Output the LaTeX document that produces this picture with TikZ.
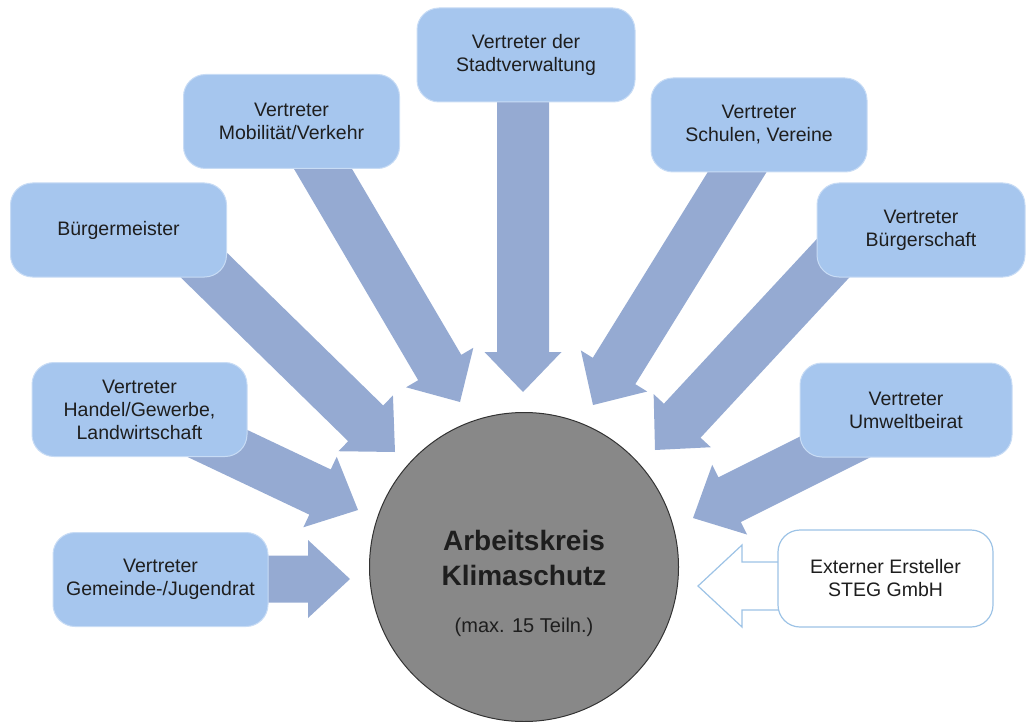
\documentclass[tikz,border=0pt]{standalone}
\usepackage{fontspec}
\setmainfont{Liberation Sans}
\usetikzlibrary{calc}
\definecolor{boxblue}{HTML}{A6C6EE}
\definecolor{boxrim}{HTML}{C8DCF5}
\definecolor{arrowblue}{HTML}{95AAD2}
\definecolor{circgray}{HTML}{888888}
\definecolor{txt}{HTML}{1E1E1E}
\definecolor{extline}{HTML}{9DC3E6}
% #1 style, #2 start, #3 tip, #4 half shaft, #5 half head, #6 head length
\newcommand{\blockarrow}[6][arrowbody]{%
  \coordinate (bahead) at ($(#3)!#6!(#2)$);
  \path[#1] ($(#2)!#4!90:(#3)$) -- ($(bahead)!#4!90:(#3)$) -- ($(bahead)!#5!90:(#3)$) -- (#3)
    -- ($(bahead)!#5!-90:(#3)$) -- ($(bahead)!#4!-90:(#3)$) -- ($(#2)!#4!-90:(#3)$) -- cycle;
}
\begin{document}
\begin{tikzpicture}[x=1pt,y=-1pt,
  arrowbody/.style={fill=arrowblue},
  hollowarrow/.style={fill=white,draw=extline,line width=1.2pt,line join=miter},
  member/.style={rectangle,rounded corners=22pt,fill=boxblue,draw=boxrim,line width=1pt,
    minimum width=216pt,minimum height=94pt,inner sep=0pt,align=center,text=txt,
    font=\fontsize{19.5}{23}\selectfont},
  extbox/.style={member,fill=white,draw=extline,line width=1.2pt},
  core/.style={circle,fill=circgray,draw=black!80,line width=1pt,minimum size=309pt,inner sep=0pt},
  coretitle/.style={anchor=base,text=txt,font=\fontsize{28}{34}\selectfont\bfseries,inner sep=0pt},
  corenote/.style={anchor=base,text=txt,font=\fontsize{20}{24}\selectfont,inner sep=0pt}]
\useasboundingbox (0,0) rectangle (1027,722);

% arrow end points
\coordinate (sBm) at (170,232);  \coordinate (tBm) at (395,452);
\coordinate (sMo) at (306,140);  \coordinate (tMo) at (460,402);
\coordinate (sSt) at (523,60);   \coordinate (tSt) at (523,392);
\coordinate (sSc) at (757,140);  \coordinate (tSc) at (593,405);
\coordinate (sBs) at (850,240);  \coordinate (tBs) at (655,450);
\coordinate (sUm) at (869,430);  \coordinate (tUm) at (693,518);
\coordinate (sHa) at (189,430);  \coordinate (tHa) at (358,510);
\coordinate (sGe) at (230,579);  \coordinate (tGe) at (350,579);
\coordinate (sEx) at (820,586);  \coordinate (tEx) at (698,586);

\blockarrow{sBm}{tBm}{25pt}{39pt}{41pt}
\blockarrow{sMo}{tMo}{25pt}{39pt}{40pt}
\blockarrow{sSt}{tSt}{26pt}{38.5pt}{40pt}
\blockarrow{sSc}{tSc}{25pt}{39pt}{40pt}
\blockarrow{sBs}{tBs}{25pt}{39pt}{40pt}
\blockarrow{sUm}{tUm}{25pt}{39pt}{41pt}
\blockarrow{sHa}{tHa}{25pt}{39pt}{42pt}
\blockarrow{sGe}{tGe}{23.5pt}{39pt}{42pt}
\blockarrow[hollowarrow]{sEx}{tEx}{24pt}{41pt}{44pt}

% boxes
\node[member] (bm) at (118.5,230) {Bürgermeister};
\node[member] (mo) at (291.5,121.5) {Vertreter\\Mobilität/Verkehr};
\node[member,minimum width=218pt] (st) at (526,55) {Vertreter der\\Stadtverwaltung};
\node[member] (sc) at (759,125) {Vertreter\\Schulen, Vereine};
\node[member,minimum width=208pt] (bs) at (921,230) {Vertreter\\Bürgerschaft};
\node[member,minimum width=212pt] (um) at (906,410) {Vertreter\\Umweltbeirat};
\node[member,minimum width=215pt] (ha) at (139.5,409.5) {Vertreter\\Handel/Gewerbe,\\Landwirtschaft};
\node[member,minimum width=215pt] (ge) at (160.5,579.5) {Vertreter\\Gemeinde-/Jugendrat};
\node[extbox,minimum width=215pt,minimum height=97pt] (ex) at (885.5,578.5) {Externer Ersteller\\STEG GmbH};

% central circle
\node[core] (ak) at (524,567) {};
\node[coretitle] (ak1) at (524,550) {Arbeitskreis};
\node[coretitle] (ak2) at (524,585) {Klimaschutz};
\node[corenote] (ak3) at (524,632) {(max. 15 Teiln.)};
\end{tikzpicture}
\end{document}
